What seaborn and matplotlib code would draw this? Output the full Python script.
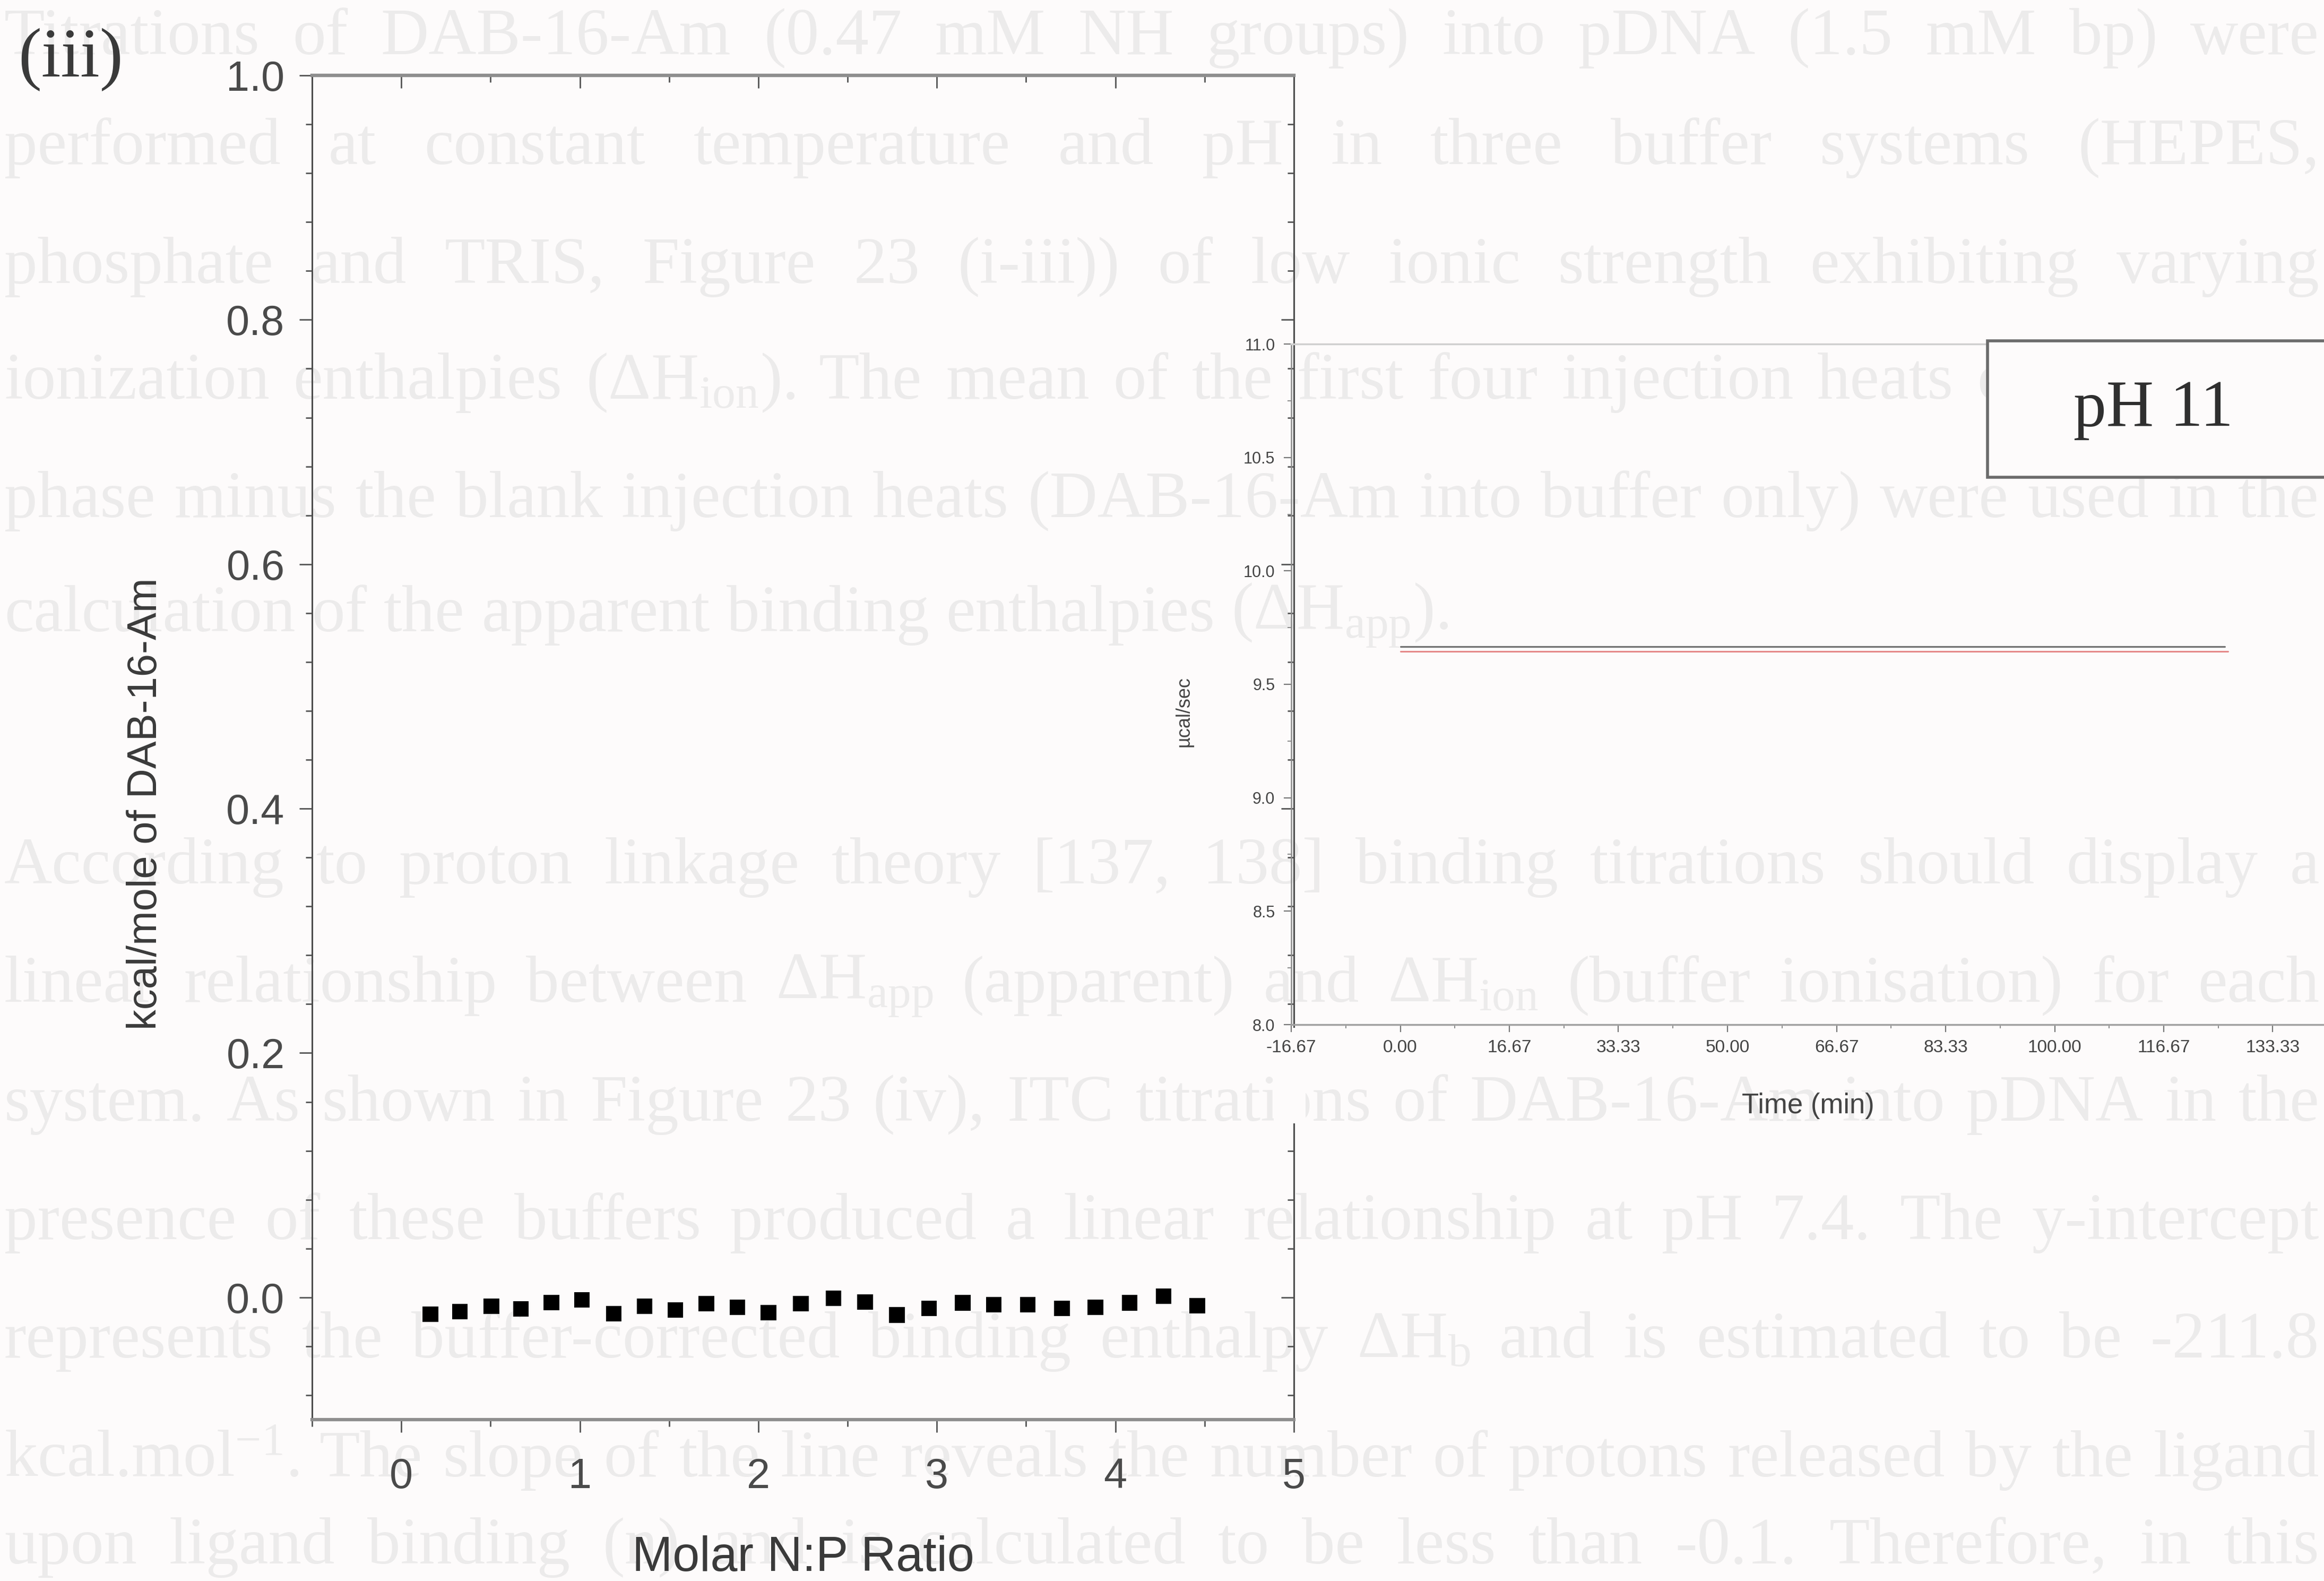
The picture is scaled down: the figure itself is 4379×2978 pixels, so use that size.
import numpy as np
import pandas as pd
import matplotlib
matplotlib.use("Agg")
import matplotlib.pyplot as plt
import seaborn as sns
from matplotlib.ticker import MultipleLocator, FixedLocator, FormatStrFormatter
from matplotlib.patches import Rectangle

# ---------------- data ----------------
molar_ratio = [0.163, 0.327, 0.505, 0.669, 0.841, 1.011, 1.189, 1.362, 1.534, 1.709,
               1.882, 2.057, 2.238, 2.420, 2.598, 2.776, 2.955, 3.145, 3.320, 3.508,
               3.701, 3.888, 4.081, 4.269, 4.459]
heat_kcal = [-0.0136, -0.0115, -0.0074, -0.0095, -0.0041, -0.0021, -0.0132, -0.0074,
             -0.0103, -0.0049, -0.0082, -0.0124, -0.0052, -0.0006, -0.0037, -0.0144,
             -0.0090, -0.0044, -0.0060, -0.0060, -0.0090, -0.0082, -0.0044, 0.0009,
             -0.0067]

raw_time = [0.0, 126.0]
raw_power = [9.665, 9.665]
baseline_time = [0.0, 126.5]
baseline_power = [9.645, 9.645]

main_xticks = [0, 1, 2, 3, 4, 5]
main_yticks = [0.0, 0.2, 0.4, 0.6, 0.8, 1.0]
inset_xticks = [-16.67, 0.0, 16.67, 33.33, 50.0, 66.67, 83.33, 100.0, 116.67, 133.33]
inset_xticklabels = ["-16.67", "0.00", "16.67", "33.33", "50.00", "66.67", "83.33",
                     "100.00", "116.67", "133.33"]
inset_yticks = [8.0, 8.5, 9.0, 9.5, 10.0, 10.5, 11.0]

panel_label = "(iii)"
main_xlabel = "Molar N:P Ratio"
main_ylabel = "kcal/mole of DAB-16-Am"
inset_xlabel = "Time (min)"
inset_ylabel = "µcal/sec"
ph_label = "pH 11"

ghost_lines = [
    "Titrations of DAB-16-Am (0.47 mM NH groups) into pDNA (1.5 mM bp) were",
    "performed at constant temperature and pH in three buffer systems (HEPES,",
    "phosphate and TRIS, Figure 23 (i-iii)) of low ionic strength exhibiting varying",
    "ionization enthalpies (ΔH$_{\\mathrm{ion}}$). The mean of the first four injection heats of a titration",
    "phase minus the blank injection heats (DAB-16-Am into buffer only) were used in the",
    "calculation of the apparent binding enthalpies (ΔH$_{\\mathrm{app}}$).",
    "According to proton linkage theory [137, 138] binding titrations should display a",
    "linear relationship between ΔH$_{\\mathrm{app}}$ (apparent) and ΔH$_{\\mathrm{ion}}$ (buffer ionisation) for each",
    "system. As shown in Figure 23 (iv), ITC titrations of DAB-16-Am into pDNA in the",
    "presence of these buffers produced a linear relationship at pH 7.4. The y-intercept",
    "represents the buffer-corrected binding enthalpy ΔH$_{\\mathrm{b}}$ and is estimated to be -211.8",
    "kcal.mol$^{-1}$. The slope of the line reveals the number of protons released by the ligand",
    "upon ligand binding (n) and is calculated to be less than -0.1. Therefore, in this",
]
ghost_justified = [True, True, True, True, True, False, True, True, True, True, True, True, True]

# ---------------- style ----------------
sns.set_theme(style="ticks")
BG = "#fdfbfb"
TXT = "#3a3a3a"
plt.rcParams["font.family"] = ["Liberation Sans", "DejaVu Sans"]
plt.rcParams["mathtext.fontset"] = "custom"
plt.rcParams["mathtext.rm"] = "Liberation Serif"
plt.rcParams["mathtext.it"] = "Liberation Serif:italic"

W_PX, H_PX, DPI = 4379, 2978, 100
fig = plt.figure(figsize=(W_PX / DPI, H_PX / DPI), dpi=DPI, facecolor=BG)

# ---------------- faint bleed-through page text ----------------
renderer = fig.canvas.get_renderer()
GHOST_SIZE = 90
GHOST_COLOR = "#ecebeb"
ghost_y_px = [72, 279, 503, 721, 944, 1159, 1634, 1857, 2081, 2304, 2527, 2751, 2915]
x_left_px, x_right_px = 8, 4370
for text, y_px, just in zip(ghost_lines, ghost_y_px, ghost_justified):
    words = text.split(" ")
    arts, widths = [], []
    for w in words:
        t = fig.text(0, 1 - y_px / H_PX, w, fontsize=GHOST_SIZE, family="Liberation Serif",
                     color=GHOST_COLOR, ha="left", va="center", zorder=-5)
        widths.append(t.get_window_extent(renderer).width)
        arts.append(t)
    space = GHOST_SIZE * 0.25 * DPI / 72
    if just and len(words) > 1:
        gap = max((x_right_px - x_left_px - sum(widths)) / (len(words) - 1), space * 0.5)
    else:
        gap = space
    x = x_left_px
    for t, w in zip(arts, widths):
        t.set_x(x / W_PX)
        x += w + gap

# ---------------- main axes ----------------
L, R, T, B = 588, 2438, 142, 2674
ax = fig.add_axes([L / W_PX, 1 - B / H_PX, (R - L) / W_PX, (B - T) / H_PX])
ax.set_facecolor("none")

df = pd.DataFrame({"ratio": molar_ratio, "heat": heat_kcal})
sns.scatterplot(data=df, x="ratio", y="heat", marker="s", s=21 ** 2, color="black",
                edgecolor="none", linewidth=0, ax=ax, zorder=5, legend=False)

ax.set_xlim(-0.5, 5.0)
ax.set_ylim(-0.1, 1.0)
ax.xaxis.set_major_locator(FixedLocator(main_xticks))
ax.xaxis.set_minor_locator(MultipleLocator(0.5))
ax.yaxis.set_major_locator(FixedLocator(main_yticks))
ax.yaxis.set_minor_locator(MultipleLocator(0.04))
ax.yaxis.set_major_formatter(FormatStrFormatter("%.1f"))

tick_col = "#555555"
ax.tick_params(axis="both", which="major", direction="out", length=17, width=2,
               color=tick_col, labelsize=57, labelcolor="#4a4a4a")
ax.tick_params(axis="both", which="minor", direction="out", length=9, width=2, color=tick_col)
ax.tick_params(axis="x", which="major", pad=34)
ax.tick_params(axis="y", which="major", pad=20)

for side in ["left", "right"]:
    ax.spines[side].set_color("#4d4d4d")
    ax.spines[side].set_linewidth(2.2)
for side in ["top", "bottom"]:
    ax.spines[side].set_color("#8e8e8e")
    ax.spines[side].set_linewidth(4.5)

sec_x = ax.secondary_xaxis("top")
sec_x.xaxis.set_major_locator(FixedLocator(main_xticks))
sec_x.xaxis.set_minor_locator(MultipleLocator(0.5))
sec_x.tick_params(axis="x", which="major", direction="in", length=17, width=2, color=tick_col, labeltop=False)
sec_x.tick_params(axis="x", which="minor", direction="in", length=9, width=2, color=tick_col)
sec_x.spines["top"].set_color("#8e8e8e")
sec_x.spines["top"].set_linewidth(4.5)

sec_y = ax.secondary_yaxis("right")
sec_y.yaxis.set_major_locator(FixedLocator(main_yticks))
sec_y.yaxis.set_minor_locator(MultipleLocator(0.04))
sec_y.tick_params(axis="y", which="major", direction="in", length=17, width=2, color=tick_col, labelright=False)
sec_y.tick_params(axis="y", which="minor", direction="in", length=9, width=2, color=tick_col)
sec_y.spines["right"].set_color("#4d4d4d")
sec_y.spines["right"].set_linewidth(2.2)

ax.set_xlabel(main_xlabel, fontsize=66, color=TXT)
ax.set_ylabel(main_ylabel, fontsize=56, color=TXT)
ax.xaxis.set_label_coords(0.5, -0.086)
ax.yaxis.set_label_coords(-0.15, 0.458)

fig.text(34 / W_PX, 1 - 112 / H_PX, panel_label, fontsize=95, family="Liberation Serif",
         color=TXT, ha="left", va="center")

# white gap in the main right spine where the inset labels sit
fig.add_artist(Rectangle((2400 / W_PX, 1 - 2116 / H_PX), 60 / W_PX, (2116 - 1936) / H_PX,
                         transform=fig.transFigure, facecolor=BG, edgecolor="none", zorder=1))

# ---------------- inset ----------------
iL, iT, iB = 2433, 648, 1930
iR = 2433 + 205.5 * 10
axi = fig.add_axes([iL / W_PX, 1 - iB / H_PX, (iR - iL) / W_PX, (iB - iT) / H_PX], zorder=2)
axi.set_facecolor("none")
sns.lineplot(x=raw_time, y=raw_power, color="#6e6e6e", linewidth=2.2, ax=axi, estimator=None)
sns.lineplot(x=baseline_time, y=baseline_power, color="#e58a8a", linewidth=2.2, ax=axi, estimator=None)
axi.set_xlim(-16.67, 150.0)
axi.set_ylim(8.0, 11.0)
axi.xaxis.set_major_locator(FixedLocator(inset_xticks))
axi.set_xticklabels(inset_xticklabels)
axi.xaxis.set_minor_locator(FixedLocator([v + 8.335 for v in inset_xticks]))
axi.yaxis.set_major_locator(FixedLocator(inset_yticks))
axi.yaxis.set_major_formatter(FormatStrFormatter("%.1f"))
axi.yaxis.set_minor_locator(MultipleLocator(0.25))
axi.tick_params(axis="both", which="major", direction="out", length=10, width=1.6,
                color="#777777", labelcolor="#444444")
axi.tick_params(axis="x", which="major", labelsize=24, pad=10)
axi.tick_params(axis="y", which="major", labelsize=22, pad=12)
axi.tick_params(axis="both", which="minor", direction="out", length=5, width=1.4, color="#8a8a8a")
axi.spines["left"].set_color("#8a8a8a")
axi.spines["left"].set_linewidth(1.8)
axi.spines["bottom"].set_color("#a0a0a0")
axi.spines["bottom"].set_linewidth(2.5)
axi.spines["top"].set_color("#d0d0d0")
axi.spines["top"].set_linewidth(2.5)
axi.spines["right"].set_visible(False)
axi.set_xlabel(inset_xlabel, fontsize=38, color="#444444")
axi.set_ylabel(inset_ylabel, fontsize=26, color="#444444")
axi.xaxis.set_label_coords(0.474, -0.1)
axi.yaxis.set_label_coords(-0.09, 0.46)

# pH label box
fig.add_artist(Rectangle((3745 / W_PX, 1 - 899 / H_PX), (4520 - 3745) / W_PX, (899 - 642) / H_PX,
                         transform=fig.transFigure, facecolor=BG, edgecolor="#6b6b6b",
                         linewidth=4, zorder=3))
fig.text(4057 / W_PX, 1 - 772 / H_PX, ph_label, fontsize=89, family="Liberation Serif",
         color="#2f2f2f", ha="center", va="center", zorder=4)

fig.savefig("out.png", dpi=DPI, facecolor=BG)
